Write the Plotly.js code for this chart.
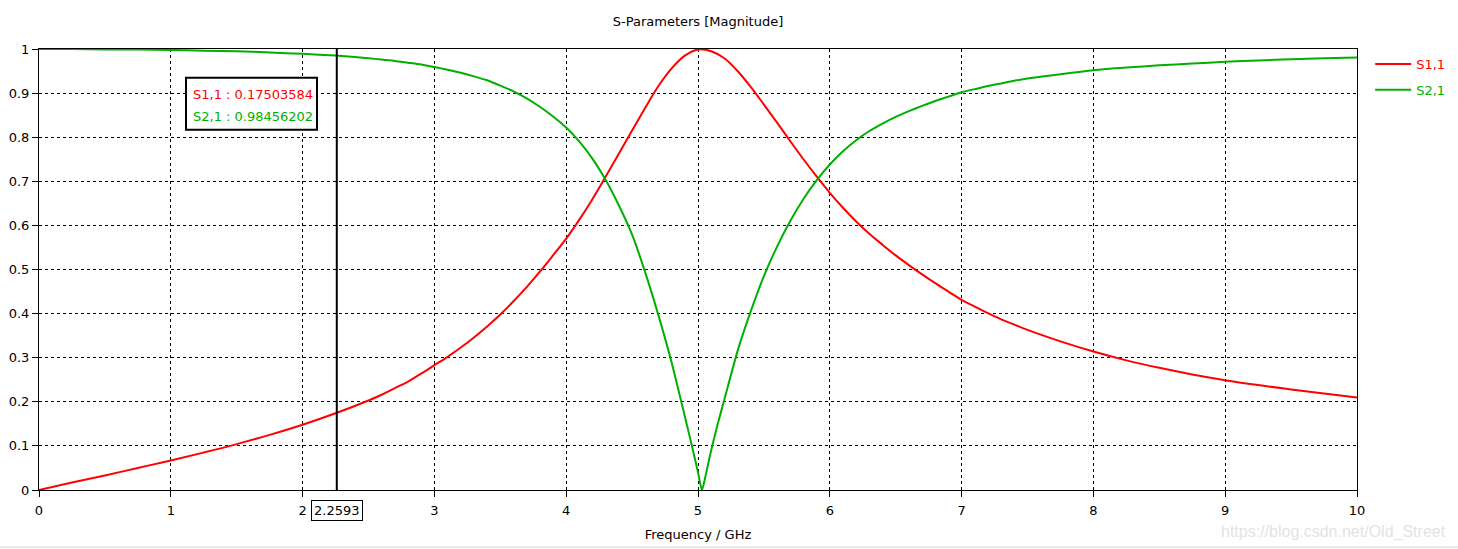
<!DOCTYPE html>
<html>
<head>
<meta charset="utf-8">
<script src="https://cdn.plot.ly/plotly-3.0.1.min.js"></script>
<style>
  html, body { margin: 0; padding: 0; background: #ffffff; }
  #chart { width: 1458px; height: 549px; }
</style>
</head>
<body>
<div id="chart"></div>
<script>
// Frequency samples (GHz) for |S1,1|
const freqS11 = [0,0.25,0.5,0.75,1,1.25,1.5,1.75,2,2.25,2.5,2.6,2.7,2.8,2.9,3,3.1,3.2,3.3,3.4,3.5,3.6,3.7,3.8,3.9,4,4.1,4.2,4.3,4.4,4.5,4.6,4.7,4.8,4.9,5,5.1,5.2,5.3,5.4,5.5,5.6,5.7,5.8,5.9,6,6.1,6.2,6.3,6.4,6.5,6.6,6.7,6.8,6.9,7,7.1,7.2,7.3,7.4,7.5,7.75,8,8.25,8.5,8.75,9,9.25,9.5,9.75,10];

// |S1,1|
const s11 = [0,0.017,0.033,0.050,0.067,0.085,0.104,0.125,0.148,0.174,0.203,
  0.216,0.231,0.246,0.264,0.283,
  0.302,0.323,0.346,0.371,0.398,0.428,0.460,0.495,0.532,0.570,
  0.613,0.660,0.711,0.763,0.815,0.867,0.916,0.956,0.985,0.999,
  0.995,0.979,0.950,0.914,0.874,0.833,0.791,0.750,0.711,0.674,
  0.640,0.609,0.581,0.556,0.532,0.510,0.489,0.469,0.450,0.431,
  0.416,0.401,0.387,0.375,0.363,
  0.337,0.314,0.294,0.277,0.262,0.249,0.238,0.228,0.219,0.210];

// Frequency samples (GHz) for |S2,1| (denser around the notch)
const freqS21 = [0,0.25,0.5,0.75,1,1.25,1.5,1.75,2,2.25,2.5,2.6,2.7,2.8,2.9,3,3.1,3.2,3.3,3.4,3.5,3.6,3.7,3.8,3.9,4,4.1,4.2,4.3,4.4,4.5,4.6,4.7,4.8,4.9,4.95,5,5.03,5.06,5.1,5.15,5.2,5.3,5.4,5.5,5.6,5.7,5.8,5.9,6,6.1,6.2,6.3,6.4,6.5,6.6,6.7,6.8,6.9,7,7.1,7.2,7.3,7.4,7.5,7.75,8,8.25,8.5,8.75,9,9.25,9.5,9.75,10];

// |S2,1|
const s21 = [1,1,0.999,0.999,0.998,0.996,0.995,0.992,0.989,0.985,0.979,
  0.976,0.973,0.969,0.965,0.959,
  0.953,0.946,0.938,0.929,0.917,0.904,0.888,0.869,0.847,0.822,
  0.790,0.751,0.703,0.645,0.579,0.493,0.396,0.289,0.167,
  0.105,0.040,0,0.036,0.090,0.150,0.205,
  0.315,0.405,0.485,0.552,0.610,0.660,0.702,0.738,
  0.768,0.793,0.814,0.831,0.846,0.859,0.871,0.882,0.892,0.902,
  0.909,0.916,0.922,0.928,0.933,
  0.943,0.952,0.958,0.963,0.967,0.971,0.974,0.977,0.979,0.981];

const seriesNames = ['S1,1', 'S2,1'];
const seriesColors = ['#ff0000', '#00b000'];

// Marker readout
const markerFreq = 2.2593;
const markerLabel = '2.2593';
const markerReadout = ['S1,1 : 0.17503584', 'S2,1 : 0.98456202'];

const xTicks = [0,1,2,3,4,5,6,7,8,9,10];
const yTicks = [0,0.1,0.2,0.3,0.4,0.5,0.6,0.7,0.8,0.9,1];

const FONT = 'DejaVu Sans, Tahoma, sans-serif';
const FS = 13;

const traces = [
  {
    x: freqS11, y: s11, type: 'scatter', mode: 'lines',
    name: '<span style="color:' + seriesColors[0] + '">' + seriesNames[0] + '</span>',
    legendgroup: 'a',
    line: { color: seriesColors[0], width: 2, shape: 'spline', smoothing: 1 },
    hoverinfo: 'skip'
  },
  {
    x: freqS21, y: s21, type: 'scatter', mode: 'lines',
    name: '<span style="color:' + seriesColors[1] + '">' + seriesNames[1] + '</span>',
    legendgroup: 'b',
    line: { color: seriesColors[1], width: 2, shape: 'spline', smoothing: 0.6 },
    hoverinfo: 'skip'
  }
];

const layout = {
  width: 1458,
  height: 549,
  margin: { l: 39, r: 101, t: 49, b: 59, autoexpand: false },
  paper_bgcolor: '#ffffff',
  plot_bgcolor: '#ffffff',
  font: { family: FONT, size: FS, color: '#000000' },
  title: {
    text: 'S-Parameters [Magnitude]',
    font: { family: FONT, size: FS, color: '#000000' },
    x: 0.5, xref: 'paper', xanchor: 'center',
    y: 1 - 21 / 549, yref: 'container', yanchor: 'middle'
  },
  xaxis: {
    range: [0, 10],
    tickvals: xTicks,
    ticktext: xTicks.map(String),
    showgrid: true, gridcolor: '#000000', gridwidth: 1, griddash: '3px,3px',
    zeroline: false,
    showline: true, linecolor: '#000000', linewidth: 1, mirror: true,
    ticks: 'outside', ticklen: 6, tickcolor: '#000000', tickwidth: 1,
    ticklabelstandoff: 2,
    tickfont: { family: FONT, size: FS, color: '#000000' },
    title: { text: 'Frequency / GHz', font: { family: FONT, size: FS, color: '#000000' }, standoff: 13 },
    automargin: false,
    fixedrange: true
  },
  yaxis: {
    range: [0, 1],
    tickvals: yTicks,
    ticktext: yTicks.map(String),
    showgrid: true, gridcolor: '#000000', gridwidth: 1, griddash: '3px,3px',
    zeroline: false,
    showline: true, linecolor: '#000000', linewidth: 1, mirror: true,
    ticks: 'outside', ticklen: 6, tickcolor: '#000000', tickwidth: 1,
    tickfont: { family: FONT, size: FS, color: '#000000' },
    automargin: false,
    fixedrange: true
  },
  showlegend: true,
  legend: {
    x: 1.01, xanchor: 'left',
    y: 1, yanchor: 'top',
    bgcolor: 'rgba(0,0,0,0)',
    borderwidth: 0,
    traceorder: 'grouped',
    tracegroupgap: 6,
    font: { family: FONT, size: FS },
    itemwidth: 36
  },
  shapes: [
    // marker cursor line
    { type: 'line', xref: 'x', yref: 'paper', x0: markerFreq, x1: markerFreq, y0: 0, y1: 1,
      line: { color: '#000000', width: 2 }, layer: 'above' },
    // readout box
    { type: 'rect', xref: 'paper', yref: 'paper',
      x0: (186 - 39) / 1318, x1: (317 - 39) / 1318,
      y0: (490.3 - 130) / 441, y1: (490.3 - 78) / 441,
      fillcolor: '#ffffff', line: { color: '#000000', width: 2 }, layer: 'above' },
    // bottom window border line
    { type: 'line', xref: 'paper', yref: 'paper',
      x0: -39 / 1318, x1: 1419 / 1318, y0: (490.3 - 547.5) / 441, y1: (490.3 - 547.5) / 441,
      line: { color: '#e6e6e6', width: 2 } }
  ],
  annotations: [
    { xref: 'paper', yref: 'paper', x: (191 - 39) / 1318, y: (490.3 - 95) / 441,
      xanchor: 'left', yanchor: 'middle', showarrow: false,
      text: markerReadout[0], font: { family: FONT, size: FS, color: seriesColors[0] } },
    { xref: 'paper', yref: 'paper', x: (191 - 39) / 1318, y: (490.3 - 117) / 441,
      xanchor: 'left', yanchor: 'middle', showarrow: false,
      text: markerReadout[1], font: { family: FONT, size: FS, color: seriesColors[1] } },
    // marker frequency label below axis
    { xref: 'x', yref: 'paper', x: markerFreq, y: (490.3 - 500) / 441,
      xanchor: 'center', yanchor: 'top', showarrow: false,
      text: markerLabel, font: { family: FONT, size: FS, color: '#000000' },
      bgcolor: '#ffffff', bordercolor: '#000000', borderwidth: 1, borderpad: 2 },
    // watermark
    { xref: 'paper', yref: 'paper', x: (1448 - 39) / 1318, y: (490.3 - 532) / 441,
      xanchor: 'right', yanchor: 'middle', showarrow: false,
      text: 'https://blog.csdn.net/Old_Street',
      font: { family: 'Liberation Sans, Arial, sans-serif', size: 16, color: '#e3e3e3' } }
  ]
};

Plotly.newPlot('chart', traces, layout, { displayModeBar: false, staticPlot: true });
</script>
</body>
</html>
